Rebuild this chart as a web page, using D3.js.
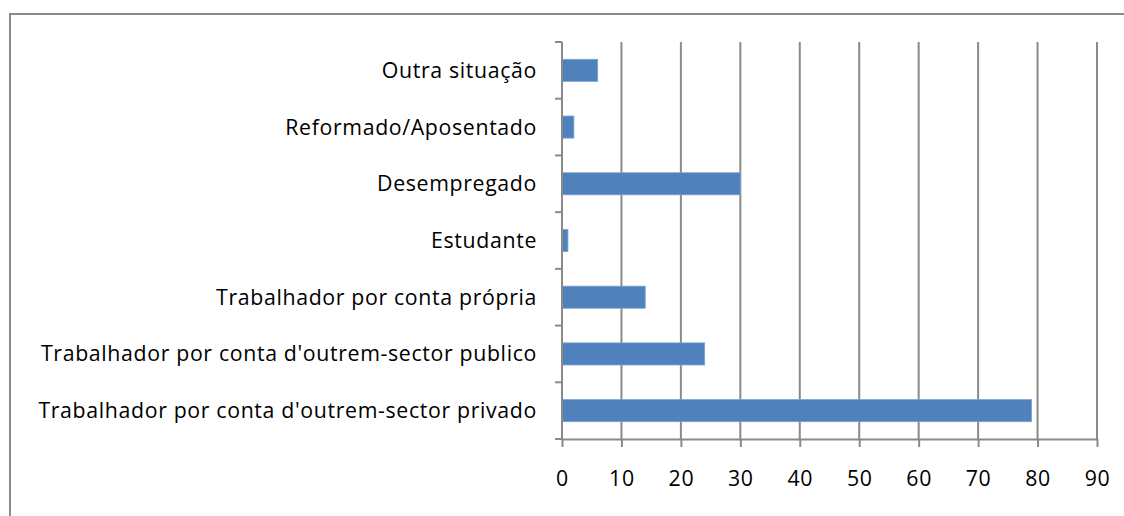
<!DOCTYPE html>
<html lang="pt">
<head>
    <meta charset="UTF-8">
    <title>Situação profissional</title>
    <style>
        body { margin: 0; background: #fff; }
        .label { font-family: "Open Sans", sans-serif; font-size: 21.3px; letter-spacing: 0.65px; fill: #000; }
        .grid line { stroke: #8a8a8a; stroke-width: 2px; }
        .axis path, .axis line { stroke: #8a8a8a; stroke-width: 2px; }
    </style>
</head>
<body>
    <svg id="chart" width="1124" height="516"></svg>
    <script src="https://d3js.org/d3.v7.min.js"></script>
    <script>
        // categories top to bottom, as in the picture
        const categories = [
            "Outra situação",
            "Reformado/Aposentado",
            "Desempregado",
            "Estudante",
            "Trabalhador por conta própria",
            "Trabalhador por conta d'outrem-sector publico",
            "Trabalhador por conta d'outrem-sector privado"
        ];
        const values = [6, 2, 30, 1, 14, 24, 79];
        const xTicks = [0, 10, 20, 30, 40, 50, 60, 70, 80, 90];

        const svg = d3.select("#chart");

        // chart border (runs off the right/bottom edge)
        svg.append("rect")
            .attr("x", 10).attr("y", 14)
            .attr("width", 1130).attr("height", 520)
            .attr("fill", "#fff")
            .attr("stroke", "#8a8a8a")
            .attr("stroke-width", 2);

        const plotLeft = 562, plotRight = 1097, plotTop = 42, plotBottom = 439;

        const x = d3.scaleLinear().domain([0, 90]).range([plotLeft, plotRight]);
        const y = d3.scaleBand().domain(categories).range([plotTop, plotBottom]).paddingInner(0.61).paddingOuter(0.305);

        // vertical gridlines
        svg.append("g").attr("class", "grid")
            .selectAll("line")
            .data(xTicks.slice(1))
            .join("line")
            .attr("x1", d => x(d)).attr("x2", d => x(d))
            .attr("y1", plotTop).attr("y2", plotBottom);

        // bars
        svg.append("g")
            .selectAll("rect")
            .data(values)
            .join("rect")
            .attr("x", x(0))
            .attr("y", (d, i) => y(categories[i]))
            .attr("width", d => x(d) - x(0))
            .attr("height", y.bandwidth())
            .attr("fill", "#4f81bd")
            .attr("stroke", "#7ea3d0")
            .attr("stroke-width", 0.8);

        // x axis
        const xAxis = svg.append("g").attr("class", "axis")
            .attr("transform", `translate(0,${plotBottom})`)
            .call(d3.axisBottom(x).tickValues(xTicks).tickSize(8).tickSizeOuter(0).tickPadding(24));
        xAxis.selectAll("text").attr("class", "label").attr("font-size", null).attr("font-family", null).attr("fill", null);

        // y axis line and boundary ticks
        const yAxis = svg.append("g").attr("class", "axis");
        yAxis.append("line")
            .attr("x1", plotLeft).attr("x2", plotLeft)
            .attr("y1", plotTop).attr("y2", plotBottom);
        const step = (plotBottom - plotTop) / categories.length;
        yAxis.selectAll("line.tk")
            .data(d3.range(categories.length + 1))
            .join("line")
            .attr("class", "tk")
            .attr("x1", plotLeft - 7).attr("x2", plotLeft)
            .attr("y1", i => plotTop + i * step).attr("y2", i => plotTop + i * step);

        // category labels
        svg.append("g")
            .selectAll("text")
            .data(categories)
            .join("text")
            .attr("class", "label")
            .attr("x", plotLeft - 25)
            .attr("y", d => y(d) + y.bandwidth() / 2)
            .attr("dy", "0.35em")
            .attr("text-anchor", "end")
            .text(d => d);
    </script>
</body>
</html>
